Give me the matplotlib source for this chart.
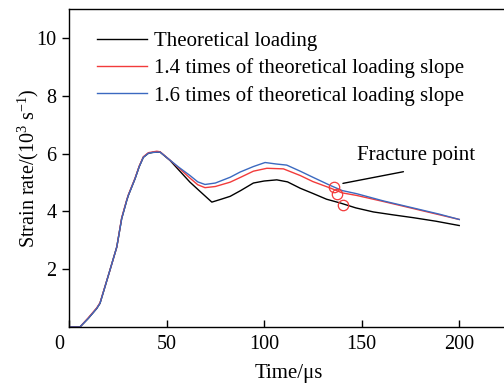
import numpy as np
import matplotlib
matplotlib.use('Agg')
import matplotlib.pyplot as plt
import matplotlib.transforms as mtransforms

plt.rcParams['font.family'] = ['Liberation Serif', 'DejaVu Serif']
plt.rcParams['mathtext.fontset'] = 'custom'
plt.rcParams['mathtext.rm'] = 'Liberation Serif'
plt.rcParams['mathtext.it'] = 'Liberation Serif:italic'

# Strain rate (10^3 s^-1) against time (us)
t_base = [0, 5.6, 9.9, 14.2, 15.9, 21.0, 24.5, 27.0, 29.6, 30.4, 33.8, 36.0, 38.1, 40.7, 43.0,
          46.7, 51.8, 56.0, 62.0, 67.0, 73.2, 78.0, 82.6, 88.0, 94.5, 100.0, 106.5, 112.0,
          118.5, 125.0, 132.0, 139.0, 147.0, 156.0, 166.0, 176.6, 188.0, 200.0]
sr_base = [0, 0, 0.30, 0.64, 0.82, 1.97, 2.77, 3.75, 4.38, 4.55, 5.12, 5.55, 5.87, 6.01, 6.04,
           6.05, 5.76, 5.45, 5.01, 4.70, 4.32, 4.42, 4.52, 4.72, 4.98, 5.05, 5.09, 5.02,
           4.80, 4.62, 4.42, 4.29, 4.12, 3.98, 3.88, 3.78, 3.66, 3.51]

t_14 = [0, 5.6, 9.9, 14.2, 15.9, 21.0, 24.5, 27.0, 29.6, 30.4, 33.8, 36.0, 38.1, 40.7, 45.0,
        46.7, 51.8, 56.0, 62.0, 66.0, 69.7, 75.0, 82.6, 88.0, 94.5, 101.4, 109.9, 118.5,
        125.0, 133.8, 140.0, 147.5, 161.2, 170.0, 180.0, 190.0, 200.0]
sr_14 = [0, 0, 0.32, 0.66, 0.84, 1.97, 2.77, 3.78, 4.40, 4.57, 5.14, 5.57, 5.89, 6.03, 6.08,
         6.06, 5.77, 5.52, 5.15, 4.92, 4.82, 4.86, 5.01, 5.18, 5.39, 5.49, 5.47, 5.24,
         5.03, 4.81, 4.64, 4.55, 4.34, 4.20, 4.04, 3.88, 3.72]

t_16 = [0, 5.6, 9.9, 14.2, 15.9, 21.0, 24.5, 27.0, 29.6, 30.4, 33.8, 36.0, 38.1, 40.7, 43.0,
        46.7, 51.8, 56.0, 62.0, 66.0, 69.7, 75.0, 82.6, 87.7, 94.5, 100.5, 106.0, 111.6,
        118.5, 125.0, 133.8, 140.0, 147.5, 161.2, 170.0, 180.0, 190.0, 200.0]
sr_16 = [0, 0, 0.30, 0.64, 0.82, 1.97, 2.77, 3.75, 4.38, 4.55, 5.12, 5.55, 5.87, 6.01, 6.04,
         6.05, 5.77, 5.54, 5.24, 5.02, 4.93, 4.98, 5.18, 5.36, 5.55, 5.69, 5.64, 5.60,
         5.39, 5.18, 4.90, 4.72, 4.61, 4.36, 4.22, 4.06, 3.90, 3.72]

labels = ['Theoretical loading',
          '1.4 times of theoretical loading slope',
          '1.6 times of theoretical loading slope']
colors = ['black', '#f23b3b', '#3b69c0']

# fracture points on each curve (time, strain rate)
frac_t = [140.2, 137.3, 136.0]
frac_sr = [4.21, 4.61, 4.86]

fig = plt.figure(figsize=(5.04, 3.88), dpi=100)
ax = fig.add_axes([69 / 504, 61 / 388, 439 / 504, 318 / 388])

for t, sr, lab, c in zip([t_base, t_14, t_16], [sr_base, sr_14, sr_16], labels, colors):
    ax.plot(t, sr, color=c, lw=1.0, label=lab)

ax.plot(frac_t, frac_sr, 'o', ms=7.5, mfc='none', mec='#f23b3b', mew=0.9, ls='none')

ax.annotate('', xy=(139.0, 4.95), xytext=(172.8, 5.39),
            arrowprops=dict(arrowstyle='-', color='black', lw=1.0))
ax.text(147.5, 5.93, 'Fracture point', fontsize=15, va='center', ha='left')

ax.set_xlim(0, 225)
ax.set_ylim(0, 11)
ax.set_xticks([0, 50, 100, 150, 200])
ax.set_yticks([2, 4, 6, 8, 10])
ax.tick_params(axis='x', direction='in', length=5, width=1.0, labelsize=14.5, pad=6)
ax.tick_params(axis='y', direction='out', length=5, width=1.0, labelsize=14.5, pad=4)
for s in ax.spines.values():
    s.set_linewidth(1.0)

# the origin label sits a little left of the corner
zero_lbl = ax.get_xticklabels()[0]
zero_lbl.set_transform(zero_lbl.get_transform()
                       + mtransforms.ScaledTranslation(-10 / 100, 0, fig.dpi_scale_trans))

ax.set_xlabel('Time/μs', fontsize=15, labelpad=7)
ax.set_ylabel(r'Strain rate/(10$^3$ s$^{-1}$)', fontsize=14.5, labelpad=-3.5)

leg = ax.legend(loc='upper left', bbox_to_anchor=(0.045, 0.955), frameon=False, fontsize=15,
                handlelength=2.4, handletextpad=0.33, labelspacing=0.35, borderaxespad=0)

fig.savefig('out.png', dpi=100)
